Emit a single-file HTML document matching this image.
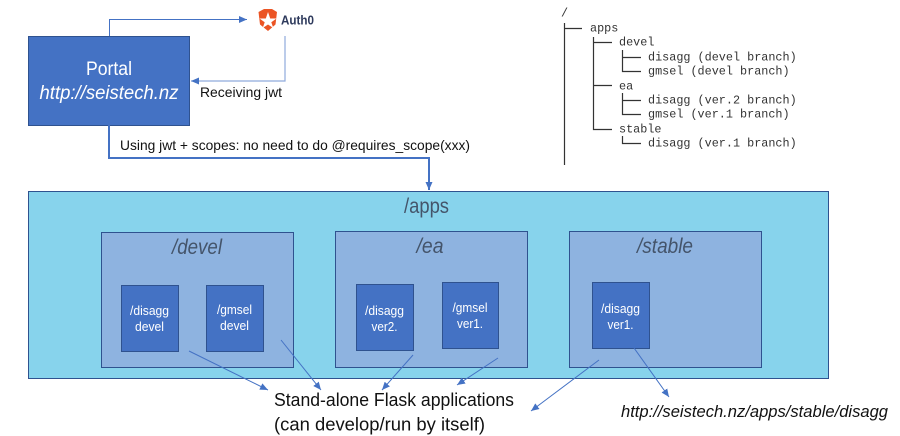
<!DOCTYPE html>
<html>
<head>
<meta charset="utf-8">
<style>
html,body{margin:0;padding:0;background:#fff;width:900px;height:436px;overflow:hidden}
svg{display:block}
text{font-family:"Liberation Sans",sans-serif}
.m{font-family:"Liberation Mono",monospace;font-size:11.8px;fill:#333}
.w{fill:#fff;text-anchor:middle}
.t{fill:#44546a;font-style:italic;font-size:21px;text-anchor:middle}
.k{fill:#111}
</style>
</head>
<body>
<svg width="900" height="436" viewBox="0 0 900 436" xmlns="http://www.w3.org/2000/svg">
<defs>
<marker id="a" markerWidth="10" markerHeight="10" refX="8" refY="4" orient="auto" markerUnits="userSpaceOnUse"><path d="M0 0.500L8 4L0 7.500Z" fill="#4472c4"/></marker>
</defs>
<!-- Portal -->
<rect x="28.500" y="36.500" width="161" height="89" fill="#4472c4" stroke="#2f528f"/>
<text class="w" x="109" y="75" font-size="19" textLength="46" lengthAdjust="spacingAndGlyphs">Portal</text>
<text class="w" x="109" y="99" font-size="19" font-style="italic" textLength="139" lengthAdjust="spacingAndGlyphs">http://seistech.nz</text>
<!-- Auth0 -->
<path d="M258.500 12L264 9H272L277 12L275.500 24.500L268 31L260 24.500Z" fill="#eb5424"/>
<path d="M268 12L270.200 18.500H276.500L271.300 22.300L273.300 28L268 24.500L262.700 28L264.700 22.300L259.500 18.500H265.800Z" fill="#fff"/>
<text x="281" y="24.500" font-size="12.500" font-weight="bold" fill="#2e3a5c" textLength="33" lengthAdjust="spacingAndGlyphs">Auth0</text>
<!-- top connectors -->
<path d="M109.500 36V19.500H247" fill="none" stroke="#4472c4" stroke-width="1" marker-end="url(#a)"/>
<path d="M285 36V81H191" fill="none" stroke="#8faadc" stroke-width="1.200" marker-end="url(#a)"/>
<text class="k" x="200" y="97" font-size="14" textLength="82" lengthAdjust="spacingAndGlyphs">Receiving jwt</text>
<path d="M109 125V158H429V190" fill="none" stroke="#4472c4" stroke-width="2" marker-end="url(#a)"/>
<text class="k" x="120" y="150" font-size="14" textLength="350" lengthAdjust="spacingAndGlyphs">Using jwt + scopes: no need to do @requires_scope(xxx)</text>
<!-- apps -->
<rect x="28.500" y="191.500" width="800" height="187" fill="#87d3ec" stroke="#2f528f"/>
<text x="426.500" y="213" font-size="21" fill="#44546a" text-anchor="middle" textLength="45" lengthAdjust="spacingAndGlyphs">/apps</text>
<!-- groups -->
<rect x="101.500" y="232.500" width="192" height="135" fill="#8eb3e0" stroke="#2f528f"/>
<rect x="335.500" y="231.500" width="192" height="136" fill="#8eb3e0" stroke="#2f528f"/>
<rect x="569.500" y="231.500" width="192" height="136" fill="#8eb3e0" stroke="#2f528f"/>
<text class="t" x="197" y="254" textLength="50" lengthAdjust="spacingAndGlyphs">/devel</text>
<text class="t" x="430" y="253" textLength="27" lengthAdjust="spacingAndGlyphs">/ea</text>
<text class="t" x="665" y="253" textLength="56" lengthAdjust="spacingAndGlyphs">/stable</text>
<!-- inner boxes -->
<g fill="#4472c4" stroke="#2f528f">
<rect x="121.500" y="285.500" width="57" height="66"/>
<rect x="206.500" y="285.500" width="57" height="66"/>
<rect x="356.500" y="284.500" width="57" height="66"/>
<rect x="442.500" y="282.500" width="56" height="66"/>
<rect x="592.500" y="282.500" width="57" height="66"/>
</g>
<g font-size="13">
<text class="w" x="149.500" y="315" textLength="39" lengthAdjust="spacingAndGlyphs">/disagg</text>
<text class="w" x="149.500" y="331" textLength="29" lengthAdjust="spacingAndGlyphs">devel</text>
<text class="w" x="234.500" y="314" textLength="35" lengthAdjust="spacingAndGlyphs">/gmsel</text>
<text class="w" x="234.500" y="330" textLength="29" lengthAdjust="spacingAndGlyphs">devel</text>
<text class="w" x="384.500" y="315" textLength="39" lengthAdjust="spacingAndGlyphs">/disagg</text>
<text class="w" x="384.500" y="331" textLength="26" lengthAdjust="spacingAndGlyphs">ver2.</text>
<text class="w" x="470" y="312" textLength="35" lengthAdjust="spacingAndGlyphs">/gmsel</text>
<text class="w" x="470" y="328" textLength="26" lengthAdjust="spacingAndGlyphs">ver1.</text>
<text class="w" x="620.500" y="313" textLength="39" lengthAdjust="spacingAndGlyphs">/disagg</text>
<text class="w" x="620.500" y="329" textLength="26" lengthAdjust="spacingAndGlyphs">ver1.</text>
</g>
<!-- diagonals -->
<g stroke="#4472c4" stroke-width="1" fill="none">
<path d="M189 351L268 390" marker-end="url(#a)"/>
<path d="M281 340L321 390" marker-end="url(#a)"/>
<path d="M413 355L382 390" marker-end="url(#a)"/>
<path d="M498 358L457 385" marker-end="url(#a)"/>
<path d="M599 360L531 411" marker-end="url(#a)"/>
<path d="M634 348L669 397" marker-end="url(#a)"/>
</g>
<!-- bottom text -->
<text class="k" x="274" y="406" font-size="18.500" textLength="240" lengthAdjust="spacingAndGlyphs">Stand-alone Flask applications</text>
<text class="k" x="274" y="430.500" font-size="18.500" textLength="211" lengthAdjust="spacingAndGlyphs">(can develop/run by itself)</text>
<text class="k" x="621" y="417" font-size="16.500" font-style="italic" textLength="267" lengthAdjust="spacingAndGlyphs">http://seistech.nz/apps/stable/disagg</text>
<!-- tree -->
<g stroke="#333" stroke-width="1.200" fill="none">
<path d="M564.500 23V165M564 28.500H582"/>
<path d="M593.500 37V129.500H612M593 42.500H612M593 85.500H612"/>
<path d="M622.500 50V71.500H641M622 57.500H641"/>
<path d="M622.500 93V114.500H641M622 100.500H641"/>
<path d="M622.500 136V143.500H641"/>
</g>
<text class="m" x="561" y="16.500">/</text>
<text class="m" x="590" y="31.500">apps</text>
<text class="m" x="619" y="45.500">devel</text>
<text class="m" x="648" y="60.500">disagg (devel branch)</text>
<text class="m" x="648" y="74.500">gmsel (devel branch)</text>
<text class="m" x="619" y="89.500">ea</text>
<text class="m" x="648" y="103.500">disagg (ver.2 branch)</text>
<text class="m" x="648" y="117.500">gmsel (ver.1 branch)</text>
<text class="m" x="619" y="132.500">stable</text>
<text class="m" x="648" y="146.500">disagg (ver.1 branch)</text>
</svg>
</body>
</html>
